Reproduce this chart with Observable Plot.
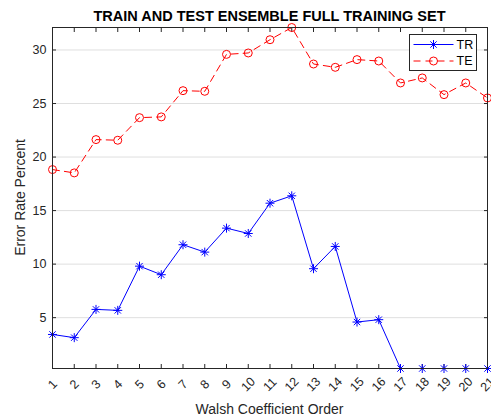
<!DOCTYPE html>
<html><head><meta charset="utf-8">
<script src="https://cdn.jsdelivr.net/npm/d3@7"></script>
<script src="https://cdn.jsdelivr.net/npm/@observablehq/plot@0.6"></script>
<style>
body{margin:0;background:#fff;}
#wrap{position:relative;width:491px;height:419px;background:#fff;}
#wrap svg{position:absolute;left:0;top:0;}
</style></head><body><div id="wrap"></div>
<script>
const order = [1,2,3,4,5,6,7,8,9,10,11,12,13,14,15,16,17,18,19,20,21];
const trainError = [3.43,3.13,5.77,5.68,9.81,9.01,11.81,11.12,13.36,12.86,15.69,16.38,9.57,11.65,4.59,4.81,0.25,0.25,0.25,0.25,0.25];
const testError = [18.83,18.52,21.63,21.57,23.68,23.75,26.2,26.14,29.59,29.72,30.96,32.1,28.69,28.38,29.1,28.97,26.92,27.39,25.83,26.92,25.52];
const yTicks = [5,10,15,20,25,30];
const seriesNames = ["TR","TE"];
const titleText = "TRAIN AND TEST ENSEMBLE FULL TRAINING SET";
const xLabel = "Walsh Coefficient Order";
const yLabel = "Error Rate Percent";

const FONT = '"Liberation Sans", Arial, Helvetica, sans-serif';
const BLUE = "#0000ff", RED = "#ff0000", AX = "#262626";

const trData = order.map((o,i)=>({order:o, value:trainError[i]}));
const teData = order.map((o,i)=>({order:o, value:testError[i]}));

const asterisk = {draw(ctx, size){
  const r = Math.sqrt(size/Math.PI), d = r*Math.SQRT1_2;
  ctx.moveTo(-r,0); ctx.lineTo(r,0);
  ctx.moveTo(0,-r); ctx.lineTo(0,r);
  ctx.moveTo(-d,-d); ctx.lineTo(d,d);
  ctx.moveTo(-d,d); ctx.lineTo(d,-d);
}};

const chart = Plot.plot({
  width:491, height:419,
  marginLeft:52, marginRight:4, marginTop:27, marginBottom:51,
  x:{domain:[1,21]},
  y:{domain:[0.25,32.1]},
  style:{fontFamily:FONT, fontSize:"12.5px", color:AX, background:"transparent"},
  marks:[
    Plot.gridY(yTicks,{stroke:AX, strokeOpacity:0.15}),
    Plot.axisX(order,{anchor:"bottom", tickSize:-4, tickPadding:20, tickRotate:-45, textAnchor:"middle", lineAnchor:"middle", label:null, fontSize:12.5}),
    Plot.axisX(order,{anchor:"top", tickSize:-4, tickFormat:()=>"", label:null}),
    Plot.axisY(yTicks,{anchor:"left", tickSize:-4, tickPadding:10, label:null, fontSize:12.5}),
    Plot.axisY(yTicks,{anchor:"right", tickSize:-4, tickFormat:()=>"", label:null}),
    Plot.line(teData,{x:"order", y:"value", stroke:RED, strokeWidth:1, strokeDasharray:"7,5"}),
    Plot.dot(teData,{x:"order", y:"value", r:4, stroke:RED, fill:"none", strokeWidth:1}),
    Plot.line(trData,{x:"order", y:"value", stroke:BLUE, strokeWidth:1}),
    Plot.dot(trData,{x:"order", y:"value", r:4.5, symbol:asterisk, stroke:BLUE, fill:"none", strokeWidth:1}),
    Plot.frame({stroke:AX})
  ]
});
const wrap = document.getElementById("wrap");
wrap.appendChild(chart);

// overlay: title, axis labels, legend
const ov = d3.create("svg").attr("width",491).attr("height",419)
  .style("font-family",FONT).style("pointer-events","none");
ov.append("text").attr("x",269.5).attr("y",21).attr("text-anchor","middle")
  .attr("font-weight","bold").attr("font-size",14.5).attr("fill","#000").text(titleText);
ov.append("text").attr("x",269.5).attr("y",414).attr("text-anchor","middle")
  .attr("font-size",14).attr("fill",AX).text(xLabel);
ov.append("text").attr("transform","translate(24.5,197.5) rotate(-90)").attr("text-anchor","middle")
  .attr("font-size",14).attr("fill",AX).text(yLabel);

const lg = ov.append("g").attr("transform","translate(409.5,34.5)");
lg.append("rect").attr("width",67).attr("height",36).attr("fill","#fff").attr("stroke",AX);
const rows = [{name:seriesNames[0], color:BLUE, dash:null, y:10, sym:asterisk, r:4.5},
              {name:seriesNames[1], color:RED, dash:"7,5", y:26.5, sym:d3.symbolCircle, r:4}];
rows.forEach(rw=>{
  lg.append("line").attr("x1",4).attr("x2",44).attr("y1",rw.y).attr("y2",rw.y)
    .attr("stroke",rw.color).attr("stroke-dasharray",rw.dash);
  lg.append("path").attr("transform",`translate(24,${rw.y})`)
    .attr("d",d3.symbol(rw.sym, rw.r*rw.r*Math.PI)()).attr("fill","none").attr("stroke",rw.color);
  lg.append("text").attr("x",47).attr("y",rw.y).attr("dy","0.35em")
    .attr("font-size",12.5).attr("fill","#000").text(rw.name);
});
wrap.appendChild(ov.node());
</script></body></html>
